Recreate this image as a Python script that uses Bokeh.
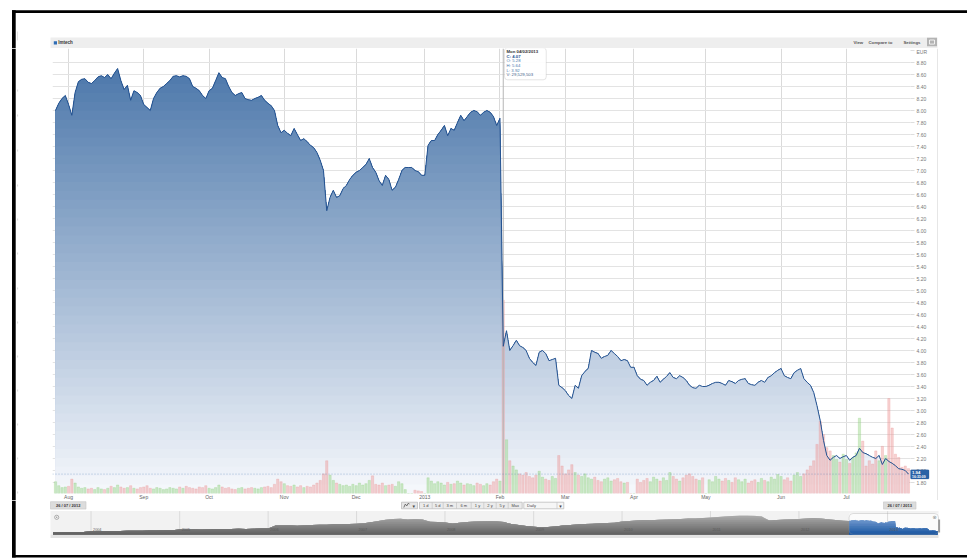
import numpy as np
import pandas as pd
from bokeh.plotting import figure
from bokeh.layouts import column, row
from bokeh.models import (Range1d, FixedTicker, NumeralTickFormatter,
                          BoxAnnotation, Label, ColumnDataSource)
from bokeh.core.properties import value
from bokeh.embed import file_html
from bokeh.resources import INLINE

UI_FONT = "Liberation Sans"
SYM_FONT = "DejaVu Sans"

# ------------------------------------------------------------------ data
series_name = "Imtech"
currency = "EUR"
dates = pd.bdate_range("2012-07-26", "2013-07-26")   # trading-day (ordinal) axis

close = [
    8.00, 8.12, 8.20, 8.25, 8.10, 7.92, 8.30, 8.48, 8.52, 8.53,
    8.47, 8.45, 8.50, 8.56, 8.58, 8.55, 8.60, 8.53, 8.62, 8.70,
    8.50, 8.35, 8.42, 8.17, 8.33, 8.30, 8.25, 8.10, 8.05, 8.00,
    8.20, 8.30, 8.37, 8.40, 8.45, 8.50, 8.57, 8.58, 8.56, 8.58,
    8.57, 8.53, 8.40, 8.37, 8.33, 8.25, 8.20, 8.33, 8.37, 8.50,
    8.63, 8.55, 8.53, 8.40, 8.30, 8.25, 8.28, 8.30, 8.20, 8.18,
    8.17, 8.20, 8.22, 8.25, 8.17, 8.12, 8.08, 8.00, 7.75, 7.63,
    7.67, 7.62, 7.58, 7.70, 7.60, 7.50, 7.53, 7.48, 7.42, 7.38,
    7.30, 7.17, 7.00, 6.33, 6.55, 6.67, 6.55, 6.58, 6.70, 6.75,
    6.85, 6.92, 6.97, 7.00, 7.05, 7.10, 7.20, 7.05, 6.97, 6.83,
    6.75, 6.92, 6.85, 6.67, 6.72, 6.85, 7.00, 7.05, 7.05, 7.05,
    7.00, 6.98, 6.92, 6.92, 7.42, 7.50, 7.50, 7.60, 7.67, 7.75,
    7.58, 7.70, 7.67, 7.80, 7.92, 7.83, 7.90, 7.97, 8.00, 7.98,
    7.92, 7.97, 8.00, 7.97, 7.90, 7.75, 7.87, 4.07, 4.33, 4.00,
    4.08, 4.17, 4.08, 4.05, 4.00, 3.87, 3.80, 3.75, 3.97, 4.00,
    3.95, 3.83, 3.85, 3.87, 3.42, 3.38, 3.33, 3.25, 3.20, 3.42,
    3.37, 3.58, 3.65, 3.70, 4.00, 3.97, 3.95, 3.87, 3.90, 3.92,
    4.00, 3.95, 3.90, 3.83, 3.85, 3.83, 3.72, 3.72, 3.58, 3.52,
    3.50, 3.42, 3.47, 3.50, 3.57, 3.47, 3.52, 3.57, 3.63, 3.55,
    3.53, 3.58, 3.55, 3.50, 3.42, 3.38, 3.37, 3.42, 3.40, 3.40,
    3.42, 3.45, 3.47, 3.47, 3.45, 3.42, 3.50, 3.48, 3.45, 3.50,
    3.52, 3.53, 3.45, 3.43, 3.42, 3.47, 3.50, 3.47, 3.55, 3.58,
    3.63, 3.67, 3.70, 3.58, 3.55, 3.53, 3.63, 3.67, 3.70, 3.53,
    3.47, 3.42, 3.30, 3.08, 2.83, 2.50, 2.25, 2.17, 2.22, 2.25,
    2.20, 2.23, 2.25, 2.17, 2.22, 2.25, 2.37, 2.30, 2.28, 2.25,
    2.22, 2.20, 2.25, 2.10, 2.20, 2.15, 2.12, 2.08, 2.03, 2.02,
    2.00, 1.94,
]

volume_m = [
    1.8, 1.2, 0.9, 1.0, 1.1, 2.2, 1.6, 1.0, 0.8, 0.9,
    0.7, 0.8, 0.6, 0.9, 0.7, 0.6, 0.8, 1.1, 0.9, 1.3,
    1.0, 0.8, 0.9, 1.2, 0.8, 0.7, 0.9, 1.0, 1.2, 0.8,
    0.7, 0.9, 0.8, 0.6, 0.7, 0.9, 0.8, 0.7, 1.0, 0.8,
    1.1, 0.9, 0.8, 0.7, 1.0, 0.9, 1.2, 0.8, 0.7, 0.9,
    1.3, 1.0, 0.8, 0.9, 0.7, 0.6, 0.8, 0.9, 0.7, 0.8,
    0.9, 0.8, 0.7, 0.9, 1.0, 1.1, 0.9, 1.4, 2.2, 1.8,
    1.5, 1.2, 1.1, 1.3, 1.0, 1.2, 0.9, 1.1, 1.0, 1.3,
    1.6, 2.0, 3.0, 5.0, 2.8, 2.0, 1.6, 1.4, 1.2, 1.3,
    1.1, 1.4, 1.2, 1.6, 1.3, 1.5, 2.0, 2.7, 1.4, 1.3,
    1.6, 1.2, 1.3, 1.4, 1.1, 1.8, 1.5, 0.6, 0.0, 0.0,
    0.5, 0.4, 0.3, 0.0, 2.4, 1.9, 1.5, 1.8, 1.6, 1.3,
    1.7, 1.4, 1.5, 1.9, 1.6, 1.3, 1.5, 1.4, 1.2, 1.6,
    1.4, 1.2, 1.5, 1.3, 1.8, 2.2, 1.9, 29.5, 8.2, 5.0,
    4.2, 3.6, 3.0, 2.8, 3.2, 2.6, 2.4, 2.8, 3.4, 2.5,
    2.2, 2.0, 2.6, 2.3, 5.8, 4.2, 3.0, 3.6, 4.4, 3.2,
    2.8, 2.6, 3.0, 2.4, 2.2, 2.5, 2.0, 1.8, 2.2, 2.4,
    1.9, 2.1, 2.3, 1.8, 1.6, 1.7, 0.0, 0.0, 2.2, 1.7,
    2.0, 2.3, 1.8, 2.5, 2.2, 1.9, 2.4, 2.0, 3.2, 2.6,
    2.2, 1.9, 2.4, 2.8, 3.0, 2.6, 2.2, 2.0, 2.4, 0.0,
    2.1, 1.8, 2.6, 2.2, 1.9, 2.3, 2.0, 1.7, 2.4, 2.1,
    1.8, 2.2, 1.6, 1.9, 2.1, 1.7, 2.3, 2.0, 1.8, 2.5,
    2.2, 2.9, 2.6, 2.1, 2.4, 1.9, 2.8, 3.2, 2.6, 3.0,
    3.6, 4.2, 5.0, 7.5, 11.0, 9.0, 7.0, 6.5, 5.8, 5.2,
    4.8, 6.0, 5.2, 4.6, 5.5, 6.2, 11.5, 8.0, 4.2, 5.0,
    4.5, 6.5, 5.0, 7.2, 5.8, 14.5, 10.0, 6.0, 5.5, 4.0,
    4.2, 3.8,
]

month_starts = ["2012-08-01", "2012-09-03", "2012-10-01", "2012-11-01", "2012-12-03",
                "2013-01-01", "2013-02-01", "2013-03-01", "2013-04-01", "2013-05-01",
                "2013-06-03", "2013-07-01"]
month_labels = ["Aug", "Sep", "Oct", "Nov", "Dec", "2013", "Feb", "Mar", "Apr", "May", "Jun", "Jul"]

price_ticks = [1.8, 2.0, 2.2, 2.4, 2.6, 2.8, 3.0, 3.2, 3.4, 3.6, 3.8, 4.0, 4.2, 4.4, 4.6,
               4.8, 5.0, 5.2, 5.4, 5.6, 5.8, 6.0, 6.2, 6.4, 6.6, 6.8, 7.0, 7.2, 7.4, 7.6,
               7.8, 8.0, 8.2, 8.4, 8.6, 8.8]
currency_tick = 9.0

tooltip_date = "2013-02-04"
tooltip_lines = ["Mon 04/02/2013", "C: 4.07", "O: 5.28", "H: 5.64", "L: 3.92", "V: 29,529,503"]
last_price = 1.94
last_price_labels = ["1.94", "16:33:09"]

range_buttons = ["1 d", "5 d", "3 m", "6 m", "1 y", "2 y", "5 y", "Max"]
period_label = "Daily"
date_from_label = "26 / 07 / 2012"
date_to_label = "26 / 07 / 2013"
header_links = ["View", "Compare to", "Settings"]

# navigator (10 years, monthly)
nav_start, nav_end = "2003-07-26", "2013-07-26"
nav_dates = (["2003-07-28"]
             + [d.strftime("%Y-%m-%d") for d in pd.date_range("2003-08-01", "2012-07-01", freq="MS")]
             + ["2012-07-26"])
nav_values = [
    1.35,
    1.35, 1.40, 1.45, 1.50, 1.55,
    1.95, 2.00, 2.05, 2.10, 2.05, 2.15, 2.20, 2.20, 2.30, 2.35, 2.45, 2.50,
    2.95, 3.00, 3.05, 3.00, 3.10, 3.20, 3.25, 3.30, 3.35, 3.30, 3.40, 3.50,
    3.55, 5.30, 5.40, 5.50, 5.20, 5.40, 5.60, 5.70, 5.80, 6.00, 6.10, 6.20,
    6.30, 6.70, 7.20, 8.00, 8.80, 9.20, 9.30, 8.90, 9.10, 8.90, 7.60, 7.40,
    7.10, 6.50, 7.00, 7.40, 7.70, 7.90, 8.00, 7.80, 7.40, 6.20, 5.60, 5.00,
    4.60, 4.30, 4.40, 4.80, 5.30, 5.60, 5.90, 6.20, 6.40, 6.60, 6.80, 7.00,
    7.70, 8.00, 8.30, 8.60, 8.40, 8.70, 8.90, 9.00, 9.20, 9.40, 9.50, 9.80,
    10.1, 10.4, 10.7, 11.0, 11.2, 11.3, 11.1, 10.6, 8.30, 8.60, 8.90, 9.00,
    9.20, 9.50, 9.80, 9.50, 9.00, 8.60, 8.20,
    8.00,
]
nav_years = ["2004-01-01", "2005-01-01", "2006-01-01", "2007-01-01", "2008-01-01",
             "2009-01-01", "2010-01-01", "2011-01-01", "2012-01-01", "2013-01-01"]
nav_year_labels = ["2004", "2005", "2006", "2007", "2008", "2009", "2010", "2011", "2012", "2013"]

assert len(close) == len(dates) == len(volume_m)
assert len(nav_dates) == len(nav_values)


# ------------------------------------------------------------------ helpers
def lerp(c0, c1, f):
    return "#%02x%02x%02x" % tuple(int(round(a + (b - a) * f)) for a, b in zip(c0, c1))


def ms(s):
    return pd.Timestamp(s).value / 1e6


def gradient_area(fig, x, y, base, top, c_bot, c_top, n, **kw):
    y = np.asarray(y, dtype=float)
    levels = np.linspace(base, top, n + 1)
    for i in range(n - 1, -1, -1):
        f = (i + 0.5) / n
        fig.varea(x=x, y1=base, y2=np.minimum(y, levels[i + 1]),
                  fill_color=lerp(c_bot, c_top, f), **kw)


def deco_fig(px0, px1, py0, py1):
    f = figure(width=int(round(px1 - px0)), height=int(round(py1 - py0)),
               x_range=Range1d(px0, px1), y_range=Range1d(-py1, -py0),
               min_border=0, toolbar_location=None, tools="", output_backend="svg",
               x_axis_location=None, y_axis_location=None, outline_line_color=None,
               background_fill_color="white", border_fill_color="white")
    f.grid.visible = False
    return f


def box(f, x0, x1, y0, y1, fill, line=None, lw=1, **kw):
    f.quad(left=x0, right=x1, top=-y0, bottom=-y1, fill_color=fill,
           line_color=line, line_width=lw, **kw)


def txt(f, x, y, s, size="4.5px", color="#444", align="left", bold=False, font=UI_FONT, **kw):
    f.text(x=[x], y=[-y], text=[s], text_font=value(font), text_font_size=size,
           text_color=color, text_align=align, text_baseline="middle",
           text_font_style="bold" if bold else "normal", **kw)


W, H = 967, 559
PLOT_L, PLOT_R, PLOT_T, PLOT_B = 52, 910, 48, 493     # price plotting area (page px)
P_RIGHT, P_BOTTOM = 935, 500                          # main figure extent (page px)

# ------------------------------------------------------------------ top strip
T = deco_fig(0, W, 0, PLOT_T)
box(T, 11.5, W, 9.8, 12.6, "black")
box(T, 11.5, 15.2, 9.8, PLOT_T, "black")
T.segment(x0=17, y0=-31, x1=17, y1=-40, line_color="#dddddd", line_width=0.8)
box(T, 50, 937, 37, 47.6, "#eeeeee")
box(T, 53.3, 56.5, 40.8, 44.0, "#2f6db5")
txt(T, 57.8, 42.4, series_name, "4.5px", "#333", bold=True)
for s, xx in zip(header_links, [853, 868, 903]):
    txt(T, xx, 42.2, s, "4.3px", "#555", bold=True)
box(T, 926.5, 936.5, 37.3, 45.8, "#b4b4b4")
box(T, 929, 934, 39.5, 43.6, None, "white", 0.8)

# ------------------------------------------------------------------ left strip
L = deco_fig(0, PLOT_L, PLOT_T, P_BOTTOM)
box(L, 11.5, 15.2, PLOT_T, P_BOTTOM, "black")
for yy in [90, 115, 150, 185, 219, 253, 288, 322, 356, 390, 424, 458, 492]:
    box(L, 16.8, 17.6, yy - 1, yy + 1, "#cfcfcf")

# ------------------------------------------------------------------ right strip
R = deco_fig(P_RIGHT, W, PLOT_T, P_BOTTOM)
box(R, 936.6, 937.4, PLOT_T, P_BOTTOM, "#e0e0e0")

# ------------------------------------------------------------------ main chart
idx = np.arange(len(dates))
PX_PER_DAY = 3.268
PX_PER_EUR = 60.0
X0 = -(55 - PLOT_L) / PX_PER_DAY                            # frame left
X_AX = (len(dates) - 1) + (PLOT_R - 908) / PX_PER_DAY       # right edge of price area
X1 = X_AX + (P_RIGHT - PLOT_R) / PX_PER_DAY                 # frame right
Y_BASE = 1.8 - (PLOT_B - 482) / PX_PER_EUR                  # bottom of price area
Y0 = Y_BASE - (P_BOTTOM - PLOT_B) / PX_PER_EUR              # frame bottom
Y1 = 1.8 + (482 - PLOT_T) / PX_PER_EUR                      # frame top
VOL_PX_PER_M = 6.55

P = figure(width=P_RIGHT - PLOT_L, height=P_BOTTOM - PLOT_T,
           x_range=Range1d(X0, X1), y_range=Range1d(Y0, Y1),
           y_axis_location="right", toolbar_location=None, tools="", output_backend="svg",
           min_border=0, outline_line_color=None,
           background_fill_color="white", border_fill_color="white")
P.extra_y_ranges = {"vol": Range1d(-(P_BOTTOM - PLOT_B) / VOL_PX_PER_M,
                                   (PLOT_B - PLOT_T) / VOL_PX_PER_M)}

gradient_area(P, idx, close, Y_BASE, Y1, (246, 248, 252), (69, 114, 167), 50)

vcol = ["#8fd17c" if i == 0 or close[i] >= close[i - 1] else "#ec9494" for i in range(len(close))]
vsrc = ColumnDataSource(dict(x=idx, top=volume_m, color=vcol))
P.vbar(x="x", top="top", bottom=0, width=0.7, source=vsrc, y_range_name="vol",
       fill_color="color", fill_alpha=0.42, line_color="color", line_alpha=0.55, line_width=0.5)

# white margins of the plotting area (where the axis labels sit)
P.quad(left=X0, right=X1, bottom=Y0, top=Y_BASE, fill_color="white", line_color=None)
P.quad(left=X_AX, right=X1, bottom=Y0, top=Y1, fill_color="white", line_color=None)

tt_i = int(dates.get_loc(pd.Timestamp(tooltip_date)))
P.segment(x0=tt_i, y0=Y_BASE, x1=tt_i, y1=Y1, line_color="#b5b5b5", line_width=1)
P.segment(x0=X0, y0=last_price, x1=X_AX, y1=last_price, line_color="#2a62a6",
          line_dash="1 2", line_width=0.7, line_alpha=0.6)

P.line(idx, close, line_color="#255391", line_width=1)

month_idx = [int(dates.get_loc(pd.Timestamp(s))) for s in month_starts]
xa = P.xaxis[0]
xa.fixed_location = Y_BASE
xa.ticker = FixedTicker(ticks=month_idx)
xa.major_label_overrides = {i: lab for i, lab in zip(month_idx, month_labels)}
xa.axis_line_color = None
xa.major_tick_line_color = None
xa.minor_tick_line_color = None
xa.major_tick_out = 0
xa.major_label_text_font = UI_FONT
xa.major_label_text_font_size = "5px"
xa.major_label_text_color = "#666666"
xa.major_label_standoff = 0
P.xgrid.ticker = FixedTicker(ticks=month_idx)
P.xgrid.grid_line_color = "#dadada"

ya = P.yaxis[0]
ya.fixed_location = X_AX
ya.ticker = FixedTicker(ticks=price_ticks + [currency_tick])
ya.formatter = NumeralTickFormatter(format="0.00")
ya.major_label_overrides = {currency_tick: currency}
ya.axis_line_color = None
ya.major_tick_line_color = "#dedede"
ya.major_tick_out = 4
ya.major_tick_in = 0
ya.minor_tick_line_color = None
ya.major_label_text_font = UI_FONT
ya.major_label_text_font_size = "5px"
ya.major_label_text_color = "#777777"
ya.major_label_standoff = 2
P.ygrid.ticker = FixedTicker(ticks=price_ticks)
P.ygrid.grid_line_color = "#e3e3e3"


def pp(py):   # page y -> price (decorations only)
    return 1.8 + (482 - py) / PX_PER_EUR


def pxi(pxv):  # page x -> day index (decorations only)
    return (pxv - 55) / PX_PER_DAY


P.add_layout(BoxAnnotation(left=pxi(504), right=pxi(545.7), top=pp(47.3), bottom=pp(79.3),
                           fill_color="white", fill_alpha=0.92, line_color="#a9a9a9",
                           line_width=1, border_radius=3))
tt_colors = ["#333333", "#255391", "#4a76ad", "#4a76ad", "#4a76ad", "#3f5f8a"]
tt_bold = ["bold", "bold", "normal", "normal", "normal", "normal"]
for s, yy, c, b in zip(tooltip_lines, [51, 55.7, 60.3, 65, 69.5, 74], tt_colors, tt_bold):
    P.add_layout(Label(x=pxi(506), y=pp(yy), text=s, text_font=UI_FONT, text_font_size="4.3px",
                       text_color=c, text_font_style=b, text_baseline="middle"))
P.add_layout(BoxAnnotation(left=X_AX, right=pxi(928.5), top=pp(469.2), bottom=pp(478.6),
                           fill_color="#2a62a6", fill_alpha=1, line_color="#1f4f8a",
                           line_width=0.6, border_radius=1))
for s, yy, sz in zip(last_price_labels, [472.0, 476.2], ["4.3px", "3.4px"]):
    P.add_layout(Label(x=X_AX, y=pp(yy), text=s, text_font=UI_FONT, text_font_size=sz,
                       text_color="white", text_font_style="bold", text_baseline="middle",
                       x_offset=1.5))

# ------------------------------------------------------------------ bottom strip
B = deco_fig(0, W, P_BOTTOM, H)
box(B, 11.5, 15.2, P_BOTTOM, 557, "black")
box(B, 11.5, W, 554.4, 557, "black")

# date inputs
box(B, 50, 85.5, 501.2, 508.6, "#dcdcdc", "#c6c6c6", 0.6)
txt(B, 67.7, 504.9, date_from_label, "4px", "#333", align="center", bold=True)
box(B, 883, 915.5, 501.4, 508.6, "#dcdcdc", "#c6c6c6", 0.6)
txt(B, 899.2, 505.0, date_to_label, "4px", "#333", align="center", bold=True)

# range selector
box(B, 401, 417, 501.7, 508.3, "#e6e6e6", "#b6b6b6", 0.7)
B.line(x=[403.3, 404.8, 406.3, 407.6, 409.0], y=[-507.0, -503.6, -505.4, -502.9, -503.5],
       line_color="#555555", line_width=0.8)
txt(B, 413.3, 505.0, "▾", "5px", "#444", align="center", font=SYM_FONT)
box(B, 419, 521.7, 501.7, 508.3, "#ebebeb", "#b6b6b6", 0.7)
seps = [431.7, 442.7, 456.0, 470.7, 483.3, 495.7, 507.7]
B.segment(x0=seps, y0=-501.7, x1=seps, y1=-508.3, line_color="#c4c4c4", line_width=0.7)
for s, xx in zip(range_buttons, [425.3, 437.2, 449.3, 463.3, 477.0, 489.5, 501.7, 514.7]):
    txt(B, xx, 505.0, s, "4px", "#444", align="center")
box(B, 523.3, 563.3, 501.7, 508.3, "#f6f6f6", "#b6b6b6", 0.7)
txt(B, 526.5, 505.0, period_label, "4px", "#444")
B.segment(x0=556.5, y0=-501.7, x1=556.5, y1=-508.3, line_color="#c4c4c4", line_width=0.7)
txt(B, 560.0, 505.0, "▾", "5px", "#444", align="center", font=SYM_FONT)

# navigator
t0, t1 = ms(nav_start), ms(nav_end)
mpp = (t1 - t0) / (937 - 52)
B.extra_x_ranges = {"nav": Range1d(t0 - 52 * mpp, t1 + (W - 937) * mpp)}
ppe = 1.69
B.extra_y_ranges = {"navy": Range1d(-(H - 534) / ppe, (534 - P_BOTTOM) / ppe)}

box(B, 50, 938, 510.6, 534, "#f2f2f2")
box(B, 50, 938, 534, 537.6, "#e3e3e3")
win_l, win_r = ms(dates[0]), t1 + 1.0 * mpp
B.quad(left=win_l, right=win_r, top=-513, bottom=-533.7, fill_color="#fbfbfb",
       line_color=None, x_range_name="nav")
yrs = [ms(s) for s in nav_years]
B.segment(x0=yrs, y0=-510.6, x1=yrs, y1=-534, line_color="#d4d4d4", line_width=0.8,
          x_range_name="nav")

nav_x = np.array([ms(s) for s in nav_dates])
gradient_area(B, nav_x, nav_values, 0.0, 12.0, (96, 96, 96), (178, 178, 178), 10,
              x_range_name="nav", y_range_name="navy")
day_x = np.array([ms(d) for d in dates])
gradient_area(B, day_x, close, 0.0, 10.0, (24, 84, 160), (125, 163, 212), 10,
              x_range_name="nav", y_range_name="navy")

B.text(x=yrs, y=-529.2, text=nav_year_labels, text_font=value(UI_FONT), text_font_size="3.8px",
       text_color="#5a5a5a", text_baseline="middle", x_offset=2, x_range_name="nav")

B.add_layout(BoxAnnotation(left=win_l, right=win_r, top=-513, bottom=-533.7, x_range_name="nav",
                           fill_alpha=0, line_color="#9c9c9c", line_width=1, border_radius=4))
box(B, 937.6, 939.6, 519, 532, "#9a9a9a")
txt(B, 934.0, 516.4, "⊗", "5px", "#8a8a8a", align="center", font=SYM_FONT)
B.scatter(x=[56.2], y=[-516.8], marker="circle", size=4.2, fill_color=None,
          line_color="#9a9a9a", line_width=0.8)
B.scatter(x=[56.2], y=[-516.8], marker="circle", size=1.4, fill_color="#9a9a9a", line_color=None)

layout = column(T, row(L, P, R), B)
with open("out.html", "w", encoding="utf-8") as fh:
    fh.write(file_html(layout, INLINE, title="Imtech"))
